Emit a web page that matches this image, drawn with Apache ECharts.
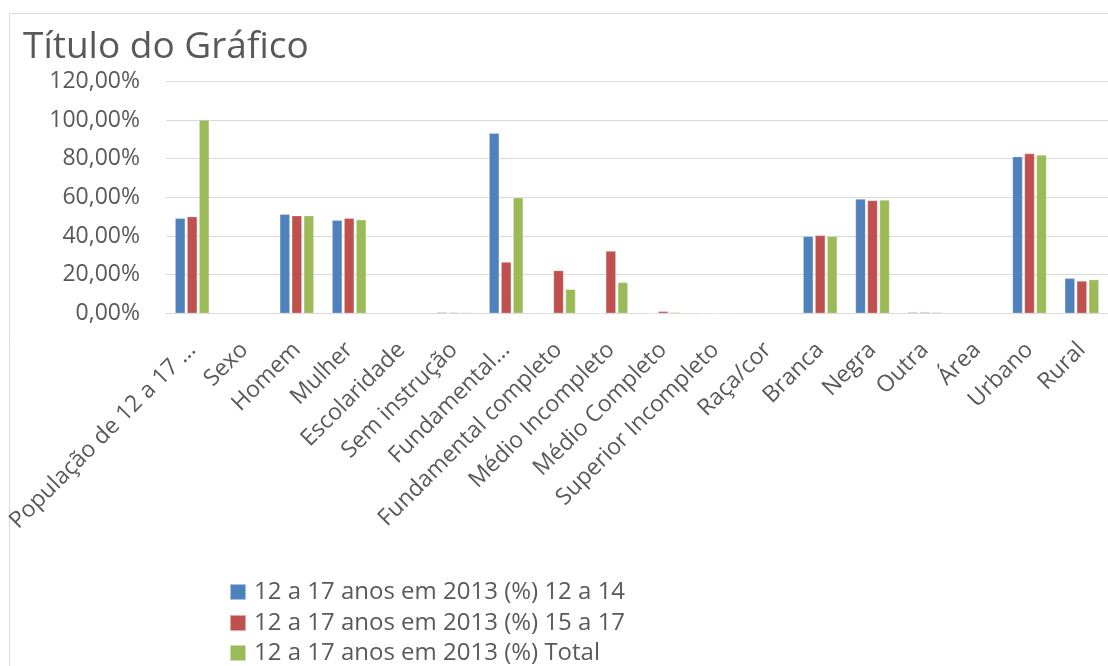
<!DOCTYPE html>
<html><head><meta charset="utf-8">
<script src="https://cdn.jsdelivr.net/npm/echarts@6/dist/echarts.min.js"></script>
<style>html,body{margin:0;padding:0;background:#fff}#c{width:1108px;height:666px}</style>
</head><body><div id="c"></div>
<script>
const categories = ["População de 12 a 17 ...","Sexo","Homem","Mulher","Escolaridade","Sem instrução","Fundamental...","Fundamental completo","Médio Incompleto","Médio Completo","Superior Incompleto","Raça/cor","Branca","Negra","Outra","Área","Urbano","Rural"];
const seriesNames = ["12 a 17 anos em 2013 (%) 12 a 14","12 a 17 anos em 2013 (%) 15 a 17","12 a 17 anos em 2013 (%) Total"];
const s1214 = [49.1,null,51.2,48.1,null,0.5,93.1,0,0,0,0,null,39.8,59.1,0.5,null,81.0,18.1];
const s1517 = [50.0,null,50.5,49.1,null,0.4,26.5,22.1,32.2,1.0,0,null,40.3,58.4,0.5,null,82.6,16.7];
const sTotal = [100.0,null,50.5,48.4,null,0.4,59.8,12.4,16.0,0.5,0,null,39.8,58.6,0.5,null,81.9,17.4];
const colors = ["#4F81BD","#C0504D","#9BBB59"];
const font = "Open Sans";
const chart = echarts.init(document.getElementById('c'));
const mk = (name, data, i) => ({
  name, type: 'bar', data, barWidth: 10, barGap: '20%',
  itemStyle: {color: colors[i], borderColor: 'rgba(255,255,255,0.5)', borderWidth: 0.5}
});
const legendRowTops = [580, 611, 641];
chart.setOption({
  animation: false,
  textStyle: {fontFamily: font},
  title: {text: 'Título do Gráfico', left: 18, top: 24,
    textStyle: {fontFamily: font, fontSize: 37, fontWeight: 'normal', color: '#595959'}},
  graphic: [{type: 'rect', shape: {x: 9.5, y: 13.5, width: 1200, height: 700},
    style: {fill: null, stroke: '#D9D9D9', lineWidth: 1}, silent: true, z: -1}],
  legend: seriesNames.map((n, i) => ({
    orient: 'vertical', left: 229, top: legendRowTops[i], padding: 0, itemWidth: 16, itemHeight: 16,
    itemGap: 0, icon: 'rect', data: [n],
    textStyle: {fontFamily: font, fontSize: 24, color: '#595959', padding: [0, 0, 0, 3]}})),
  grid: {left: 166, right: -2, top: 81.3, bottom: 352.7, containLabel: false},
  xAxis: {type: 'category', data: categories,
    axisLine: {lineStyle: {color: '#D9D9D9'}}, axisTick: {show: false},
    axisLabel: {interval: 0, rotate: 45, fontSize: 23, color: '#595959', margin: 33, fontFamily: font}},
  yAxis: {type: 'value', min: 0, max: 120, interval: 20,
    axisLine: {show: false}, axisTick: {show: false},
    splitLine: {lineStyle: {color: '#D9D9D9', width: 1}},
    axisLabel: {fontSize: 23, color: '#595959', margin: 26, fontFamily: font,
      formatter: v => v.toFixed(2).replace('.', ',') + '%'}},
  series: [mk(seriesNames[0], s1214, 0), mk(seriesNames[1], s1517, 1), mk(seriesNames[2], sTotal, 2)]
});
</script></body></html>
